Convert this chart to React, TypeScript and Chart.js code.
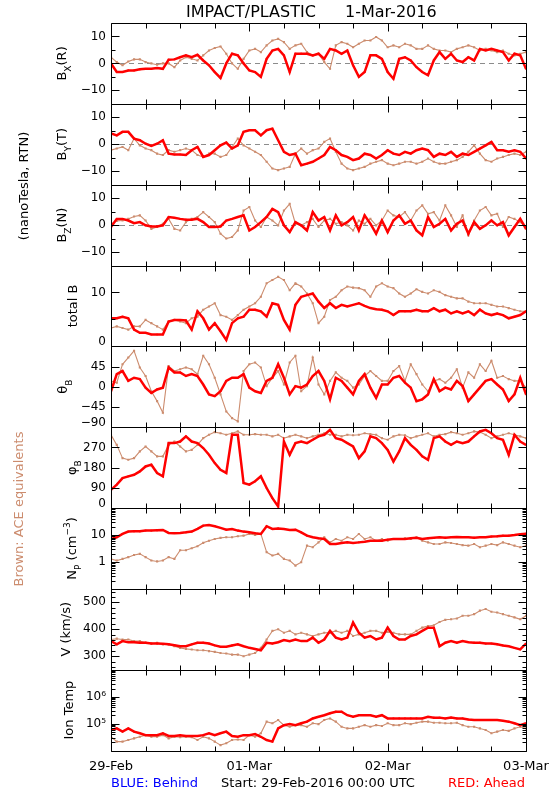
import React, { useEffect, useRef } from 'react';
import { Chart, registerables } from 'chart.js';

Chart.register(...registerables);

// ---------- data (hourly samples from 29-Feb-2016 00:00 UTC) ----------
const HOURS: number[] = Array.from({ length: 73 }, (_, i) => i);
const DAY_TICKS = [0, 24, 48, 72];
const DAY_LABELS = ['29-Feb', '01-Mar', '02-Mar', '03-Mar'];
const X_TICK_HOURS = [0, 6, 12, 18, 24, 30, 36, 42, 48, 54, 60, 66, 72];

const BX_RED = [0, -3.2, -3.2, -2.6, -2.6, -2.2, -2, -2, -1.7, -2, 1.4, 1.5, 2.3, 3, 2.3, 3.2, 1.1, -0.7, -3.2, -5.4, 0, 3.6, 3, 0, -2.6, -3.2, -5, 1.7, 4.8, 5.4, 3, -3.2, 3.6, 3.6, 3.6, 3, 3.6, 1.7, 5.4, 4.8, 3.6, 4.8, -0.7, -5, -3.2, 3, 3, 1.7, -3.2, -5.7, 1.7, 2.3, 1.1, -1.4, -3.2, -4.4, 1.1, 4.2, 1.7, 3.6, 1.1, 0.5, 2.3, 1.1, 5.4, 4.8, 5.4, 4.8, 4.2, 1.1, 3.6, 3, -2];
const BX_ACE = [2.3, 0.5, -0.7, 0.7, 1.5, 1.5, 0.5, 0, -0.5, 0, 0, -1.4, 1.1, 2.3, 1.7, 1.1, 3, 4.8, 5.7, 6.3, 3.6, 0, -2, 1.7, 4.8, 5.4, 4.2, 6.7, 8.5, 9.1, 7.9, 5.4, 6.7, 7.3, 4.2, 3, 3.6, 0.5, -2, 6.7, 7.9, 7.3, 6, 7.3, 8.5, 8.5, 9.8, 8.5, 6, 6.7, 6, 7.3, 6.7, 5.4, 5.4, 6.7, 5.4, 4.8, 4.8, 4.2, 5.4, 6, 6.7, 6, 4.8, 5.4, 4.8, 4.2, 4.8, 3.6, 3, 3.6, 4.2];

const BY_RED = [4, 3.3, 4.6, 4.6, 2.1, 1.5, 0.2, -0.6, 0.2, 1.5, -3.5, -3.8, -3.8, -4, -2.2, -1, -4.7, -4, -2.2, -0.4, 0.6, -1.6, -0.4, 4.6, 5.2, 5.2, 3.3, 5.2, 5.8, 1.5, -2.8, -4, -3.5, -7.8, -7.2, -6.5, -5.3, -4, -1, -2.2, -4, -4.7, -5.9, -5.3, -3.5, -4, -5.3, -4, -2.2, -3.5, -4, -2.8, -3.5, -2.2, -1.6, -2.2, -4.7, -3.5, -4, -2.8, -4.7, -3.5, -4, -2.8, -1.6, -0.4, 0.9, -2.2, -2.2, -2.8, -2.2, -2.8, -5.3];
const BY_ACE = [-2.2, -1.6, -1, -2.2, 2.1, -0.4, -1.6, -2.2, -3.5, -4, -2.2, -2.8, -2.2, -1.6, -2.2, -4, -4.7, -3.5, -3.5, -4.7, -4, -1, 2.1, -0.4, -1.6, -2.8, -4, -6.5, -9, -9.6, -9, -8.4, -3.5, -1.6, -3.5, -2.2, -1.6, 0.9, 2.1, -2.8, -7.2, -9, -9.6, -9, -8.4, -7.2, -6.5, -5.9, -7.2, -7.8, -7.2, -6.5, -6.5, -7.2, -6.5, -5.3, -6.5, -7.2, -7.2, -6.5, -5.9, -4.7, -2.8, -0.4, -3.5, -5.9, -6.5, -5.3, -4.7, -4, -3.5, -4, -2.8];

const BZ_RED = [-0.7, 2.3, 2.3, 1.7, 0.7, 1.1, -0.1, -0.5, -0.5, -0.1, 3, 2.7, 2.3, 2, 2, 2.3, 1.1, -0.7, -0.7, -0.5, 1.7, 2.3, 3, 3.6, -2, -0.7, 1.1, 3, 6, 4.8, -0.1, -2.6, 1.1, -0.1, -2, 4.8, 1.7, 3, -2, 3.6, -0.1, 1.1, 3, -2, 3.6, 0.5, -3.2, 1.7, -2.6, 1.7, 3.6, 0.5, 1.7, -2, -3.8, 3, -0.7, 0.5, 2.3, -2, 0.5, 1.7, -3.2, 1.1, -1.4, -0.1, 1.7, -0.1, 1.1, -3.8, -0.7, 2.3, -1.4];
const BZ_ACE = [0.5, 1.5, 1.7, 2.3, 3.2, 3.6, 1.7, -1.4, -0.7, 0.5, 2.3, -1.4, -2, 1.1, 2.3, 3, 4.8, 3, 1.1, -3.2, -5, -4.4, -2, 5.4, 6.7, 1.7, -0.7, 3, 1.7, -0.1, 5.4, 7.9, 0.5, -0.1, 1.1, 2.3, -0.7, 1.7, 2.3, 0.5, 1.1, -0.1, -2, 1.7, 0.5, 2.3, -0.1, 1.7, 5.4, 3.6, 3, 4.8, 1.7, 5.4, 7.3, 4.2, 4.8, 1.7, 7.3, 3.6, -0.7, 3.6, -3.8, 1.7, 5.4, 6.7, 3.6, 4.2, -0.7, 3, 2.3, 1.1, -0.7];

const BT_RED = [5.2, 5.2, 5.5, 5.2, 3.1, 2.5, 2.5, 2.2, 2.2, 2.2, 4.6, 4.9, 4.9, 4.8, 3.1, 6.5, 5.2, 3.1, 4.3, 2.8, 1.2, 4.3, 5.2, 5.5, 6.8, 6.8, 6.5, 5.5, 8, 7.7, 4.9, 3.1, 7.7, 9.2, 9.5, 9.8, 8.3, 7.1, 8, 7.1, 7.7, 7.4, 7.7, 8, 7.5, 7.1, 6.9, 6.8, 6.5, 5.8, 6.5, 6.5, 6.5, 6.8, 6.5, 6.5, 7.1, 6.5, 6.8, 6.1, 6.5, 6.1, 6.5, 5.8, 6.8, 6.1, 5.8, 6.1, 5.8, 5.2, 5.5, 5.8, 6.5];
const BT_ACE = [3.4, 3.7, 3.4, 3.1, 3.7, 3.7, 4.9, 4.3, 3.7, 3.1, 4.6, 4.9, 4.6, 4.3, 5.2, 5.5, 6.8, 7.4, 8, 5.8, 5.5, 4.9, 5.8, 6.8, 7.4, 8, 9.2, 11.7, 12.3, 12.9, 12.3, 10.4, 11.7, 11.1, 9.8, 8, 4.3, 5.5, 8.6, 9.2, 10.4, 11.1, 10.9, 10.8, 10.4, 9.2, 11.1, 11.7, 11.1, 10.8, 9.8, 9.2, 9.8, 10.6, 10.1, 9.8, 10.4, 10.1, 9.5, 9.2, 8.9, 8.9, 8.3, 8, 8, 8, 7.7, 7.4, 7.4, 7.1, 6.8, 6.5, 6.5];

const THETA_RED = [-10, 28, 35, 13, 20, 17, -2, -14, -6, -2, 43, 32, 32, 24, 28, 24, 5, -17, -21, -10, 13, 20, 20, 28, -2, -10, -14, 13, 20, 50, 20, -17, 1.5, -2, 5, 24, 35, 13, -28, 20, 13, -2, -17, 13, 28, -2, -25, 5, 5, 20, 24, 9, -2, -32, -28, -17, 17, -10, -2, -6, 13, 1.5, -32, -17, -2, 13, 17, 5, -6, -32, -17, 20, -17];
const THETA_ACE = [13, 9, 50, 65, 80, 43, 24, -10, -32, -58, 46, 35, 39, 43, 39, 28, 69, 50, 20, -17, -55, -70, -77, 35, 50, 54, 43, 1.5, 20, 35, 5, 54, 69, -10, 1.5, 65, 5, -17, 13, 32, 20, 13, -2, 5, 24, 35, 24, 13, 13, 35, 46, 13, 50, 28, 5, -10, 13, 17, 9, 20, 39, -2, 32, 20, 50, 35, 58, 20, 24, 17, 13, 13, -2];

const PHI_RED = [81, 104, 133, 141, 148, 163, 185, 193, 156, 141, 289, 289, 296, 319, 296, 289, 267, 237, 200, 170, 156, 326, 326, 111, 104, 119, 141, 89, 44, 7, 296, 237, 289, 296, 289, 304, 319, 326, 348, 311, 304, 289, 274, 222, 252, 319, 311, 289, 259, 207, 252, 311, 281, 259, 230, 215, 311, 319, 296, 281, 296, 289, 296, 319, 341, 348, 333, 311, 304, 237, 326, 296, 281];
const PHI_ACE = [326, 281, 222, 215, 222, 252, 274, 252, 230, 230, 281, 296, 274, 252, 259, 281, 311, 326, 338, 333, 326, 333, 341, 326, 326, 329, 326, 326, 319, 326, 311, 319, 326, 319, 311, 319, 326, 333, 326, 326, 319, 326, 324, 326, 333, 329, 326, 311, 304, 319, 326, 324, 311, 319, 326, 333, 319, 326, 329, 338, 333, 326, 333, 341, 338, 326, 311, 319, 326, 333, 326, 319, 311];

const NP_RED = [7.1, 8.2, 10.9, 13.3, 13.6, 13.6, 14.5, 14.5, 14.9, 15.3, 11.9, 11.6, 11.9, 12.5, 13.3, 16.7, 22.2, 23.4, 21.1, 18.3, 15.7, 16.7, 14.5, 13.3, 12.5, 11.6, 10.9, 21.1, 16.7, 17.5, 16.7, 15.3, 15.7, 12.5, 9.4, 8.2, 7.5, 7.1, 4.6, 4.6, 5.0, 5.3, 5.0, 5.3, 5.6, 6.1, 6.1, 6.1, 6.7, 7.1, 7.1, 7.1, 7.5, 7.8, 7.1, 7.5, 7.8, 8.2, 7.9, 8.2, 8.4, 8.2, 8.2, 7.9, 8.2, 8.2, 8.7, 8.9, 9.4, 9.4, 9.9, 10.6, 11.2];
const NP_ACE = [1.29, 1.12, 1.29, 1.5, 1.8, 1.98, 1.5, 1.12, 1.04, 1.12, 1.5, 1.29, 2.7, 2.7, 3.2, 3.8, 5.1, 6.1, 7.1, 7.8, 8.2, 8.2, 8.9, 9.4, 10.9, 9.9, 10.9, 2.3, 1.72, 1.98, 1.29, 1.12, 0.73, 0.97, 4.0, 3.5, 5.3, 8.2, 5.3, 7.1, 6.1, 8.2, 7.1, 10.9, 7.1, 8.2, 6.1, 7.1, 6.1, 7.1, 7.1, 7.5, 7.1, 8.2, 6.1, 5.3, 4.6, 4.6, 5.3, 5.0, 4.6, 4.2, 4.0, 4.6, 3.5, 4.0, 4.6, 4.2, 5.3, 4.6, 4.0, 3.5, 4.0];

const V_RED = [356, 344, 356, 352, 352, 350, 350, 347, 347, 346, 344, 341, 337, 337, 344, 350, 350, 347, 340, 335, 335, 340, 344, 337, 331, 327, 322, 350, 347, 352, 360, 356, 362, 356, 356, 369, 350, 362, 394, 369, 362, 369, 425, 387, 369, 375, 362, 369, 406, 375, 362, 362, 375, 381, 394, 406, 406, 337, 350, 356, 350, 356, 352, 350, 350, 347, 347, 344, 340, 337, 331, 325, 347];
const V_ACE = [362, 365, 362, 362, 356, 356, 350, 347, 350, 344, 344, 337, 331, 327, 325, 322, 322, 319, 316, 312, 310, 306, 306, 300, 306, 312, 331, 362, 394, 400, 387, 394, 381, 387, 381, 375, 381, 387, 387, 394, 387, 394, 375, 381, 387, 394, 394, 387, 390, 387, 381, 381, 381, 394, 406, 412, 415, 427, 435, 437, 440, 450, 450, 456, 469, 475, 465, 462, 456, 450, 444, 437, 450];

// ion temperature, log10(K)
const TEMP_RED_LOG10 = [4.76, 4.82, 4.70, 4.82, 4.70, 4.64, 4.57, 4.57, 4.57, 4.64, 4.54, 4.54, 4.57, 4.54, 4.54, 4.54, 4.57, 4.64, 4.57, 4.64, 4.70, 4.54, 4.51, 4.57, 4.57, 4.61, 4.51, 4.39, 4.33, 4.82, 4.94, 4.98, 4.94, 5.01, 5.07, 5.19, 5.25, 5.31, 5.38, 5.44, 5.44, 5.31, 5.25, 5.31, 5.31, 5.31, 5.25, 5.31, 5.19, 5.19, 5.19, 5.19, 5.19, 5.19, 5.19, 5.25, 5.22, 5.22, 5.19, 5.22, 5.19, 5.19, 5.15, 5.13, 5.13, 5.13, 5.13, 5.13, 5.10, 5.07, 5.01, 4.94, 5.01];
const TEMP_ACE_LOG10 = [4.51, 4.33, 4.33, 4.39, 4.45, 4.51, 4.57, 4.51, 4.51, 4.57, 4.45, 4.51, 4.49, 4.51, 4.49, 4.39, 4.51, 4.45, 4.33, 4.20, 4.27, 4.39, 4.41, 4.39, 4.57, 4.51, 4.64, 5.07, 5.01, 5.13, 4.94, 4.88, 4.94, 4.94, 4.88, 5.01, 4.98, 5.13, 5.19, 5.07, 4.88, 4.82, 4.82, 4.88, 4.94, 4.88, 4.94, 4.91, 5.01, 4.94, 4.94, 5.01, 4.98, 5.03, 5.07, 5.07, 5.03, 5.03, 5.01, 5.01, 5.03, 4.94, 4.88, 4.88, 4.82, 4.76, 4.64, 4.70, 4.76, 4.73, 4.82, 4.88, 4.82];

// ---------- tick values / labels ----------
const B_MAJOR = [-10, 0, 10];
const B_MINOR = [-5, 5];
const B_LABELS = ['−10', '0', '10'];
const BT_MAJOR = [0, 10];
const BT_MINOR = [5];
const BT_LABELS = ['0', '10'];
const THETA_MAJOR = [-90, -45, 0, 45, 90];
const THETA_LABEL_VALUES = [-90, -45, 0, 45];
const THETA_LABELS = ['−90', '−45', '0', '45'];
const PHI_MAJOR = [0, 90, 180, 270, 360];
const PHI_LABEL_VALUES = [0, 90, 180, 270];
const PHI_LABELS = ['0', '90', '180', '270'];
const NP_MAJOR = [0.1, 1, 10, 100];
const NP_MINOR = [0.2, 0.3, 0.4, 0.5, 0.6, 0.7, 0.8, 0.9, 2, 3, 4, 5, 6, 7, 8, 9, 20, 30, 40, 50, 60, 70, 80, 90];
const NP_LABEL_VALUES = [1, 10];
const NP_LABELS = ['1', '10'];
const V_MAJOR = [300, 400, 500];
const V_MINOR = [260, 280, 320, 340, 360, 380, 420, 440, 460, 480, 520, 540];
const V_LABELS = ['300', '400', '500'];
const T_MAJOR = [1e4, 1e5, 1e6, 1e7];
const T_MINOR = [2e4, 3e4, 4e4, 5e4, 6e4, 7e4, 8e4, 9e4, 2e5, 3e5, 4e5, 5e5, 6e5, 7e5, 8e5, 9e5, 2e6, 3e6, 4e6, 5e6, 6e6, 7e6, 8e6, 9e6];
const T_LABEL_VALUES = [1e5, 1e6];
const T_LABELS = ['10⁵', '10⁶'];

// ---------- styling ----------
const FONT = '"DejaVu Sans", "Liberation Sans", sans-serif';
const RED = '#ff0000';
const BROWN = 'rgb(204,140,110)';

type Part = { t: string; sub?: boolean; sup?: boolean };
interface PanelDef {
  type: 'linear' | 'logarithmic';
  min: number;
  max: number;
  red: number[];
  ace: number[];
  major: number[];
  minor: number[];
  labelValues: number[];
  labelOffsetPx: number[];
  labels: string[];
  title: Part[];
  titleX: number;
  zero?: boolean;
}

const PANELS: PanelDef[] = [
  { type: 'linear', min: -15, max: 15, red: BX_RED, ace: BX_ACE, major: B_MAJOR, minor: B_MINOR, labelValues: B_MAJOR, labelOffsetPx: [0, 0, 0], labels: B_LABELS, title: [{ t: 'B' }, { t: 'X', sub: true }, { t: '(R)' }], titleX: 63, zero: true },
  { type: 'linear', min: -15, max: 15, red: BY_RED, ace: BY_ACE, major: B_MAJOR, minor: B_MINOR, labelValues: B_MAJOR, labelOffsetPx: [0, 0, 0], labels: B_LABELS, title: [{ t: 'B' }, { t: 'Y', sub: true }, { t: '(T)' }], titleX: 63, zero: true },
  { type: 'linear', min: -15, max: 15, red: BZ_RED, ace: BZ_ACE, major: B_MAJOR, minor: B_MINOR, labelValues: B_MAJOR, labelOffsetPx: [0, 0, 0], labels: B_LABELS, title: [{ t: 'B' }, { t: 'Z', sub: true }, { t: '(N)' }], titleX: 63, zero: true },
  { type: 'linear', min: 0, max: 15, red: BT_RED, ace: BT_ACE, major: BT_MAJOR, minor: BT_MINOR, labelValues: BT_MAJOR, labelOffsetPx: [-4, 0], labels: BT_LABELS, title: [{ t: 'total B' }], titleX: 74 },
  { type: 'linear', min: -90, max: 90, red: THETA_RED, ace: THETA_ACE, major: THETA_MAJOR, minor: [], labelValues: THETA_LABEL_VALUES, labelOffsetPx: [-4.5, 0, 0, 0], labels: THETA_LABELS, title: [{ t: 'θ' }, { t: 'B', sub: true }], titleX: 64 },
  { type: 'linear', min: 0, max: 360, red: PHI_RED, ace: PHI_ACE, major: PHI_MAJOR, minor: [], labelValues: PHI_LABEL_VALUES, labelOffsetPx: [-4, 0, 0, 0], labels: PHI_LABELS, title: [{ t: 'φ' }, { t: 'B', sub: true }], titleX: 73 },
  { type: 'logarithmic', min: 0.1, max: 100, red: NP_RED, ace: NP_ACE, major: NP_MAJOR, minor: NP_MINOR, labelValues: NP_LABEL_VALUES, labelOffsetPx: [0, 0], labels: NP_LABELS, title: [{ t: 'N' }, { t: 'P', sub: true }, { t: ' (cm' }, { t: '−3', sup: true }, { t: ')' }], titleX: 73 },
  { type: 'linear', min: 250, max: 550, red: V_RED, ace: V_ACE, major: V_MAJOR, minor: V_MINOR, labelValues: V_MAJOR, labelOffsetPx: [0, 0, 0], labels: V_LABELS, title: [{ t: 'V (km/s)' }], titleX: 67 },
  { type: 'logarithmic', min: 1e4, max: 1e7, red: TEMP_RED_LOG10.map((e) => Math.pow(10, e)), ace: TEMP_ACE_LOG10.map((e) => Math.pow(10, e)), major: T_MAJOR, minor: T_MINOR, labelValues: T_LABEL_VALUES, labelOffsetPx: [0, 0], labels: T_LABELS, title: [{ t: 'Ion Temp' }], titleX: 70 },
];

function drawRotated(ctx: CanvasRenderingContext2D, cx: number, cy: number, parts: Part[], size: number, color: string) {
  ctx.save();
  ctx.translate(cx, cy);
  ctx.rotate(-Math.PI / 2);
  const fontOf = (p: Part) => `${p.sub || p.sup ? Math.round(size * 0.72) : size}px ${FONT}`;
  let total = 0;
  parts.forEach((p) => {
    ctx.font = fontOf(p);
    total += ctx.measureText(p.t).width;
  });
  let x = -total / 2;
  ctx.textAlign = 'left';
  ctx.textBaseline = 'middle';
  ctx.fillStyle = color;
  parts.forEach((p) => {
    ctx.font = fontOf(p);
    const dy = p.sub ? size * 0.45 : p.sup ? -size * 0.4 : 0;
    ctx.fillText(p.t, x, dy);
    x += ctx.measureText(p.t).width;
  });
  ctx.restore();
}

const framePlugin = {
  id: 'idlFrames',
  beforeDatasetsDraw(chart: any) {
    const { ctx, chartArea } = chart;
    PANELS.forEach((p, i) => {
      if (!p.zero) return;
      const ys = chart.scales['y' + i];
      const y = Math.round(ys.getPixelForValue(0)) + 0.5;
      ctx.save();
      ctx.strokeStyle = '#8c8c8c';
      ctx.lineWidth = 1;
      ctx.setLineDash([5, 4]);
      ctx.beginPath();
      ctx.moveTo(chartArea.left, y);
      ctx.lineTo(chartArea.right, y);
      ctx.stroke();
      ctx.restore();
    });
  },
  afterDraw(chart: any) {
    const { ctx, chartArea } = chart;
    const xs = chart.scales.x;
    const L = Math.round(chartArea.left) + 0.5;
    const R = Math.round(chartArea.right) + 0.5;
    ctx.save();
    ctx.strokeStyle = '#000';
    ctx.lineWidth = 1;
    ctx.setLineDash([]);
    PANELS.forEach((p, i) => {
      const ys = chart.scales['y' + i];
      const T = Math.round(ys.top) + 0.5;
      const B = Math.round(ys.bottom) + 0.5;
      ctx.beginPath();
      ctx.rect(L, T, R - L, B - T);
      X_TICK_HOURS.forEach((h) => {
        const px = Math.round(xs.getPixelForValue(h)) + 0.5;
        const len = h % 24 === 0 ? 8 : 5;
        ctx.moveTo(px, T);
        ctx.lineTo(px, T + len);
        ctx.moveTo(px, B);
        ctx.lineTo(px, B - len);
      });
      const yt = (v: number, len: number) => {
        const py = Math.round(ys.getPixelForValue(v)) + 0.5;
        if (py < T - 0.5 || py > B + 0.5) return;
        ctx.moveTo(L, py);
        ctx.lineTo(L + len, py);
        ctx.moveTo(R, py);
        ctx.lineTo(R - len, py);
      };
      p.major.forEach((v) => yt(v, 8));
      p.minor.forEach((v) => yt(v, 4));
      ctx.stroke();
      // y tick labels
      ctx.font = `12px ${FONT}`;
      ctx.fillStyle = '#000';
      ctx.textAlign = 'right';
      ctx.textBaseline = 'middle';
      p.labelValues.forEach((v, k) => {
        const py = ys.getPixelForValue(v) + (p.labelOffsetPx[k] || 0);
        ctx.fillText(p.labels[k], chartArea.left - 5, py);
      });
      drawRotated(ctx, p.titleX, (ys.top + ys.bottom) / 2, p.title, 13, '#000');
    });

    // title
    ctx.font = `16px ${FONT}`;
    ctx.fillStyle = '#000';
    ctx.textAlign = 'left';
    ctx.textBaseline = 'alphabetic';
    ctx.fillText('IMPACT/PLASTIC', 186, 17);
    ctx.fillText('1-Mar-2016', 345, 17);

    // side labels
    drawRotated(ctx, 25, 186, [{ t: '(nanoTesla, RTN)' }], 13, '#000');
    drawRotated(ctx, 20, 509, [{ t: 'Brown: ACE equivalents' }], 13, BROWN);

    // footer
    ctx.font = `13px ${FONT}`;
    ctx.textBaseline = 'alphabetic';
    ctx.textAlign = 'left';
    ctx.fillStyle = '#0000ff';
    ctx.fillText('BLUE: Behind', 111, 787);
    ctx.textAlign = 'center';
    ctx.fillStyle = '#000';
    ctx.fillText('Start: 29-Feb-2016 00:00 UTC', 318, 787);
    ctx.textAlign = 'right';
    ctx.fillStyle = RED;
    ctx.fillText('RED: Ahead', 525, 787);
    ctx.restore();
  },
};

function buildConfig(): any {
  const scales: any = {
    x: {
      type: 'linear',
      position: 'bottom',
      min: 0,
      max: 72,
      grid: { display: false, drawTicks: false },
      border: { display: false },
      ticks: {
        font: { family: FONT, size: 13 },
        color: '#000',
        padding: 8,
        maxRotation: 0,
        autoSkip: false,
        callback: (v: number) => DAY_LABELS[DAY_TICKS.indexOf(v)] ?? '',
      },
      afterBuildTicks: (s: any) => {
        s.ticks = DAY_TICKS.map((v) => ({ value: v }));
      },
      afterFit: (s: any) => {
        s.height = 49.5;
        s.paddingLeft = 0;
        s.paddingRight = 0;
      },
    },
  };
  const datasets: any[] = [];
  PANELS.forEach((p, i) => {
    const id = 'y' + i;
    scales[id] = {
      type: p.type,
      position: 'left',
      stack: 'panels',
      stackWeight: 1,
      weight: 100 - i,
      min: p.min,
      max: p.max,
      grid: { display: false, drawTicks: false },
      border: { display: false },
      ticks: { display: false },
      afterFit: (s: any) => {
        s.width = 111;
        s.paddingTop = 0;
        s.paddingBottom = 0;
      },
    };
    datasets.push({
      label: 'Ahead ' + i,
      yAxisID: id,
      xAxisID: 'x',
      data: HOURS.map((h, k) => ({ x: h, y: p.red[k] })),
      borderColor: RED,
      backgroundColor: RED,
      borderWidth: 2.5,
      pointRadius: 1.2,
      pointStyle: 'rect',
      pointBorderWidth: 0,
      pointBackgroundColor: RED,
      tension: 0,
      order: 0,
    });
    datasets.push({
      label: 'ACE ' + i,
      yAxisID: id,
      xAxisID: 'x',
      data: HOURS.map((h, k) => ({ x: h, y: p.ace[k] })),
      borderColor: BROWN,
      backgroundColor: BROWN,
      borderWidth: 1.1,
      pointRadius: 1.5,
      pointStyle: 'rect',
      pointBorderWidth: 0,
      pointBackgroundColor: BROWN,
      tension: 0,
      order: 1,
    });
  });
  return {
    type: 'line',
    data: { datasets },
    options: {
      responsive: false,
      animation: false,
      devicePixelRatio: 1,
      events: [],
      layout: { padding: { top: 23, right: 24, bottom: 0, left: 0 } },
      plugins: { legend: { display: false }, tooltip: { enabled: false }, title: { display: false } },
      scales,
    },
    plugins: [framePlugin],
  };
}

export default function App() {
  const ref = useRef<HTMLCanvasElement>(null);
  useEffect(() => {
    if (!ref.current) return;
    const chart = new Chart(ref.current, buildConfig());
    return () => chart.destroy();
  }, []);
  return (
    <div style={{ position: 'absolute', left: 0, top: 0, width: 550, height: 800, background: '#fff' }}>
      <canvas ref={ref} width={550} height={800} style={{ display: 'block', width: 550, height: 800 }} />
    </div>
  );
}
